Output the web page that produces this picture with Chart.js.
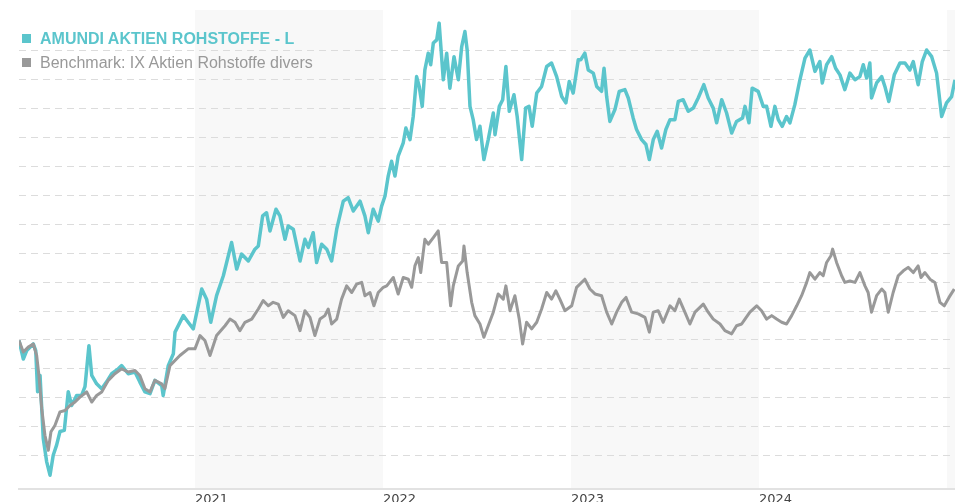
<!DOCTYPE html>
<html>
<head>
<meta charset="utf-8">
<script src="https://cdn.jsdelivr.net/npm/chart.js@4.4.1/dist/chart.umd.min.js"></script>
<style>
  html, body { margin: 0; padding: 0; background: #fff; }
  #wrap { position: relative; width: 955px; height: 502px; overflow: hidden; }
  #box { position: absolute; left: 0; top: 0; width: 955px; height: 509px; }
  #legend {
    position: absolute; left: 22px; top: 27px;
    font-family: "Liberation Sans", Arial, sans-serif; font-size: 16px; line-height: 24px;
  }
  .item { white-space: nowrap; }
  .swatch { display: inline-block; width: 9px; height: 9px; margin-right: 9px; position: relative; top: -1px; }
</style>
</head>
<body>
<div id="wrap">
  <div id="box"><canvas id="perf-chart"></canvas></div>
  <div id="legend"></div>
</div>
<script>
// series names + colours
const fundName = 'AMUNDI AKTIEN ROHSTOFFE - L';
const benchName = 'Benchmark: IX Aktien Rohstoffe divers';
const fundColor = '#5bc5cc';
const benchColor = '#999999';

// x values are decimal years
const fundDates = [
  2020.064, 2020.087, 2020.105, 2020.140, 2020.153, 2020.163, 2020.176, 2020.193, 2020.211, 2020.229,
  2020.246, 2020.264, 2020.282, 2020.305, 2020.326, 2020.344, 2020.371, 2020.397, 2020.415, 2020.436,
  2020.451, 2020.477, 2020.504, 2020.530, 2020.557, 2020.592, 2020.610, 2020.645, 2020.681, 2020.707,
  2020.734, 2020.761, 2020.787, 2020.823, 2020.831, 2020.858, 2020.885, 2020.894, 2020.938, 2020.964,
  2020.991, 2021.036, 2021.062, 2021.084, 2021.115, 2021.151, 2021.195, 2021.222, 2021.248, 2021.284,
  2021.319, 2021.337, 2021.360, 2021.381, 2021.399, 2021.431, 2021.452, 2021.479, 2021.496, 2021.523,
  2021.559, 2021.585, 2021.603, 2021.629, 2021.647, 2021.674, 2021.701, 2021.727, 2021.754, 2021.789,
  2021.815, 2021.842, 2021.878, 2021.904, 2021.922, 2021.948, 2021.975, 2021.993, 2022.011, 2022.028,
  2022.046, 2022.064, 2022.081, 2022.108, 2022.122, 2022.144, 2022.161, 2022.179, 2022.193, 2022.209,
  2022.223, 2022.241, 2022.254, 2022.268, 2022.286, 2022.299, 2022.321, 2022.339, 2022.356, 2022.378,
  2022.401, 2022.419, 2022.436, 2022.448, 2022.463, 2022.480, 2022.498, 2022.516, 2022.537, 2022.560,
  2022.587, 2022.596, 2022.619, 2022.637, 2022.654, 2022.672, 2022.697, 2022.714, 2022.738, 2022.759,
  2022.777, 2022.794, 2022.818, 2022.844, 2022.871, 2022.897, 2022.924, 2022.951, 2022.973, 2022.991,
  2023.012, 2023.039, 2023.052, 2023.074, 2023.092, 2023.119, 2023.137, 2023.163, 2023.176, 2023.190,
  2023.207, 2023.234, 2023.257, 2023.287, 2023.305, 2023.331, 2023.349, 2023.376, 2023.399, 2023.417,
  2023.438, 2023.459, 2023.482, 2023.505, 2023.527, 2023.553, 2023.571, 2023.597, 2023.624, 2023.651,
  2023.677, 2023.707, 2023.730, 2023.757, 2023.775, 2023.802, 2023.828, 2023.855, 2023.881, 2023.913,
  2023.926, 2023.947, 2023.964, 2023.996, 2024.023, 2024.041, 2024.064, 2024.085, 2024.103, 2024.124,
  2024.147, 2024.165, 2024.191, 2024.218, 2024.245, 2024.271, 2024.298, 2024.324, 2024.337, 2024.360,
  2024.387, 2024.408, 2024.431, 2024.457, 2024.484, 2024.511, 2024.537, 2024.555, 2024.573, 2024.590,
  2024.599, 2024.626, 2024.653, 2024.670, 2024.691, 2024.720, 2024.750, 2024.777, 2024.803, 2024.821,
  2024.847, 2024.869, 2024.892, 2024.919, 2024.945, 2024.972, 2024.998, 2025.025, 2025.043
];
const fundValues = [
  99.8, 93.4, 96.3, 98.6, 96.3, 82.1, 87.7, 65.9, 57.9, 53.2,
  60.1, 63.6, 68.3, 68.7, 82.1, 77.3, 80.8, 80.8, 83.8, 98.0,
  87.7, 84.8, 83.1, 85.5, 88.3, 90.0, 91.1, 88.3, 88.9, 85.4,
  82.0, 81.4, 86.0, 84.2, 80.8, 91.1, 95.2, 102.7, 108.4, 106.1,
  103.8, 117.6, 114.1, 106.1, 115.3, 122.2, 133.7, 124.5, 129.7, 127.3,
  131.4, 132.5, 142.9, 144.0, 137.7, 145.2, 142.9, 134.8, 139.4, 138.3,
  127.3, 134.8, 132.0, 137.1, 126.8, 133.1, 131.4, 127.3, 138.3, 148.0,
  149.2, 144.6, 148.0, 142.9, 137.1, 145.2, 141.1, 146.3, 149.8, 156.7,
  161.8, 156.7, 163.6, 168.2, 173.3, 169.3, 177.3, 191.1, 187.7, 180.8,
  193.4, 199.2, 195.2, 202.7, 203.8, 209.6, 190.0, 199.2, 187.1, 198.0,
  190.0, 201.5, 206.7, 200.3, 180.8, 176.2, 169.3, 173.9, 162.4, 169.3,
  178.5, 171.0, 180.8, 183.1, 194.6, 179.1, 184.8, 177.3, 162.4, 180.2,
  180.8, 173.9, 185.4, 187.7, 194.6, 195.8, 191.1, 184.2, 182.0, 189.4,
  185.4, 196.9, 196.9, 199.2, 193.4, 192.3, 187.7, 186.0, 194.0, 184.2,
  175.6, 179.7, 186.0, 186.6, 183.7, 176.8, 172.8, 169.3, 167.6, 162.4,
  169.3, 172.2, 166.4, 172.8, 176.2, 176.2, 182.5, 183.1, 179.1, 180.2,
  183.7, 188.3, 183.7, 180.2, 175.1, 183.1, 178.5, 171.6, 175.6, 176.8,
  180.8, 175.1, 187.1, 186.0, 180.8, 180.8, 173.9, 180.8, 176.2, 173.9,
  177.3, 175.1, 181.4, 190.0, 197.5, 200.3, 192.9, 196.3, 188.9, 195.2,
  198.0, 194.0, 191.7, 186.6, 192.3, 190.0, 191.1, 195.2, 190.6, 195.8,
  183.7, 188.9, 191.1, 187.7, 182.5, 191.7, 195.8, 195.8, 193.4, 196.3,
  188.3, 196.3, 200.3, 198.0, 192.3, 177.3, 182.0, 184.2, 190.0
];

const benchDates = [
  2020.064, 2020.087, 2020.113, 2020.140, 2020.158, 2020.170, 2020.185, 2020.202, 2020.220, 2020.234,
  2020.255, 2020.282, 2020.309, 2020.335, 2020.362, 2020.388, 2020.424, 2020.451, 2020.477, 2020.504,
  2020.539, 2020.574, 2020.610, 2020.645, 2020.681, 2020.707, 2020.734, 2020.761, 2020.787, 2020.823,
  2020.840, 2020.867, 2020.920, 2020.964, 2021.000, 2021.027, 2021.053, 2021.080, 2021.115, 2021.160,
  2021.186, 2021.213, 2021.239, 2021.266, 2021.302, 2021.337, 2021.363, 2021.390, 2021.416, 2021.443,
  2021.470, 2021.496, 2021.532, 2021.559, 2021.585, 2021.612, 2021.638, 2021.665, 2021.691, 2021.709,
  2021.727, 2021.754, 2021.780, 2021.807, 2021.834, 2021.860, 2021.887, 2021.904, 2021.931, 2021.952,
  2021.975, 2022.002, 2022.020, 2022.055, 2022.081, 2022.108, 2022.135, 2022.153, 2022.170, 2022.188,
  2022.201, 2022.223, 2022.241, 2022.268, 2022.294, 2022.312, 2022.339, 2022.360, 2022.374, 2022.401,
  2022.424, 2022.431, 2022.448, 2022.472, 2022.489, 2022.516, 2022.537, 2022.560, 2022.587, 2022.613,
  2022.640, 2022.654, 2022.676, 2022.702, 2022.725, 2022.743, 2022.764, 2022.791, 2022.818, 2022.844,
  2022.871, 2022.897, 2022.920, 2022.941, 2022.968, 2023.004, 2023.030, 2023.074, 2023.101, 2023.128,
  2023.163, 2023.190, 2023.217, 2023.243, 2023.270, 2023.293, 2023.323, 2023.358, 2023.394, 2023.417,
  2023.438, 2023.464, 2023.491, 2023.527, 2023.553, 2023.576, 2023.606, 2023.633, 2023.660, 2023.704,
  2023.730, 2023.757, 2023.793, 2023.819, 2023.855, 2023.881, 2023.908, 2023.926, 2023.952, 2023.988,
  2024.014, 2024.041, 2024.068, 2024.094, 2024.121, 2024.147, 2024.174, 2024.201, 2024.227, 2024.254,
  2024.271, 2024.298, 2024.324, 2024.342, 2024.360, 2024.383, 2024.392, 2024.413, 2024.440, 2024.457,
  2024.484, 2024.511, 2024.537, 2024.564, 2024.581, 2024.599, 2024.626, 2024.653, 2024.670, 2024.688,
  2024.714, 2024.741, 2024.768, 2024.794, 2024.821, 2024.847, 2024.862, 2024.883, 2024.910, 2024.936,
  2024.963, 2024.986, 2025.011, 2025.039
];
const benchValues = [
  99.8, 95.8, 97.5, 98.6, 94.6, 87.7, 76.2, 67.0, 61.8, 68.2,
  70.4, 75.1, 75.6, 77.3, 78.5, 80.2, 82.0, 78.5, 80.8, 82.0,
  86.0, 88.3, 90.0, 88.9, 89.4, 87.7, 83.1, 82.0, 86.0, 84.8,
  83.1, 91.1, 94.6, 96.9, 96.9, 101.5, 99.8, 94.6, 101.5, 104.9,
  107.2, 106.1, 103.2, 106.1, 107.2, 110.7, 113.6, 111.8, 113.0, 112.4,
  107.8, 110.1, 108.4, 103.2, 110.1, 107.8, 101.5, 107.2, 108.4, 110.7,
  105.5, 107.2, 114.1, 118.7, 116.4, 119.3, 119.9, 115.3, 116.4, 111.8,
  116.4, 118.2, 118.7, 121.6, 115.9, 121.6, 121.0, 118.2, 125.6, 128.5,
  123.3, 134.8, 133.1, 135.4, 137.7, 126.8, 126.8, 111.8, 118.7, 125.6,
  127.3, 132.5, 123.3, 113.0, 108.4, 105.5, 100.9, 104.9, 109.6, 115.9,
  114.1, 118.7, 110.1, 115.3, 107.2, 98.6, 106.1, 103.8, 106.1, 110.7,
  116.4, 114.1, 117.0, 114.1, 110.1, 111.8, 118.2, 121.0, 117.6, 115.9,
  115.3, 109.6, 105.5, 109.6, 113.0, 114.7, 109.6, 109.0, 107.8, 102.7,
  109.6, 110.1, 106.1, 111.8, 110.1, 114.1, 109.6, 105.5, 109.6, 112.4,
  109.6, 107.2, 105.5, 103.2, 102.1, 104.9, 105.5, 107.2, 109.6, 111.8,
  110.1, 107.2, 108.4, 107.2, 106.1, 105.5, 108.4, 111.8, 115.3, 119.9,
  123.3, 121.0, 123.3, 122.2, 126.8, 129.1, 131.4, 126.8, 122.2, 119.9,
  120.4, 119.9, 123.3, 118.7, 116.4, 109.6, 115.3, 117.6, 116.4, 109.6,
  116.4, 122.2, 123.9, 125.1, 123.3, 125.6, 121.6, 123.3, 121.0, 119.9,
  113.0, 111.8, 114.7, 117.6
];

// axis labels + shaded years
const yearTicks = [2021, 2022, 2023, 2024];
const shadedYears = [2021, 2023, 2025];

function toPoints(dates, values) {
  return dates.map((d, i) => ({ x: d, y: values[i] }));
}

// light grey background for every other year
const yearBands = {
  id: 'yearBands',
  beforeDraw(chart) {
    const { ctx, chartArea, scales } = chart;
    const x = scales.x;
    ctx.save();
    ctx.fillStyle = '#f8f8f8';
    shadedYears.forEach(year => {
      const left = Math.max(x.getPixelForValue(year), chartArea.left);
      const right = Math.min(x.getPixelForValue(year + 1), chartArea.right);
      if (right > left) {
        ctx.fillRect(left, chartArea.top, right - left, chartArea.bottom - chartArea.top);
      }
    });
    ctx.restore();
  }
};

const ctx = document.getElementById('perf-chart').getContext('2d');

const perfChart = new Chart(ctx, {
  type: 'line',
  data: {
    datasets: [
      {
        label: fundName,
        data: toPoints(fundDates, fundValues),
        borderColor: fundColor,
        backgroundColor: fundColor,
        borderWidth: 3.5,
        pointRadius: 0,
        tension: 0,
        borderJoinStyle: 'round',
        order: 2
      },
      {
        label: benchName,
        data: toPoints(benchDates, benchValues),
        borderColor: benchColor,
        backgroundColor: benchColor,
        borderWidth: 3,
        pointRadius: 0,
        tension: 0,
        borderJoinStyle: 'round',
        order: 1
      }
    ]
  },
  options: {
    responsive: true,
    maintainAspectRatio: false,
    animation: false,
    layout: { padding: { left: 19, right: 0, top: 10, bottom: 0 } },
    plugins: {
      legend: { display: false },
      tooltip: { enabled: false }
    },
    scales: {
      x: {
        type: 'linear',
        min: fundDates[0],
        max: fundDates[fundDates.length - 1],
        grid: { display: false, drawTicks: false },
        border: { color: '#e2e2e2', width: 2 },
        afterBuildTicks: scale => {
          scale.ticks = yearTicks.map(v => ({ value: v }));
        },
        ticks: {
          align: 'start',
          padding: 2,
          maxRotation: 0,
          autoSkip: false,
          color: '#444444',
          font: { family: 'DejaVu Sans', size: 13 },
          callback: value => String(value)
        }
      },
      y: {
        type: 'linear',
        min: 48.28,
        max: 214.14,
        grid: { color: '#dcdcdc', lineWidth: 1, drawTicks: false },
        border: { display: false, dash: [7, 5] },
        afterBuildTicks: scale => {
          scale.ticks = scale.ticks.filter(t => Math.abs(t.value - Math.round(t.value / 10) * 10) < 1e-6);
        },
        ticks: { display: false, stepSize: 10 }
      }
    }
  },
  plugins: [yearBands]
});

// html legend from the datasets
const legendEl = document.getElementById('legend');
perfChart.data.datasets.forEach((ds, i) => {
  const item = document.createElement('div');
  item.className = 'item';
  item.style.color = ds.borderColor;
  item.style.fontWeight = i === 0 ? 'bold' : 'normal';
  const sw = document.createElement('span');
  sw.className = 'swatch';
  sw.style.background = ds.borderColor;
  item.appendChild(sw);
  item.appendChild(document.createTextNode(ds.label));
  legendEl.appendChild(item);
});
</script>
</body>
</html>
